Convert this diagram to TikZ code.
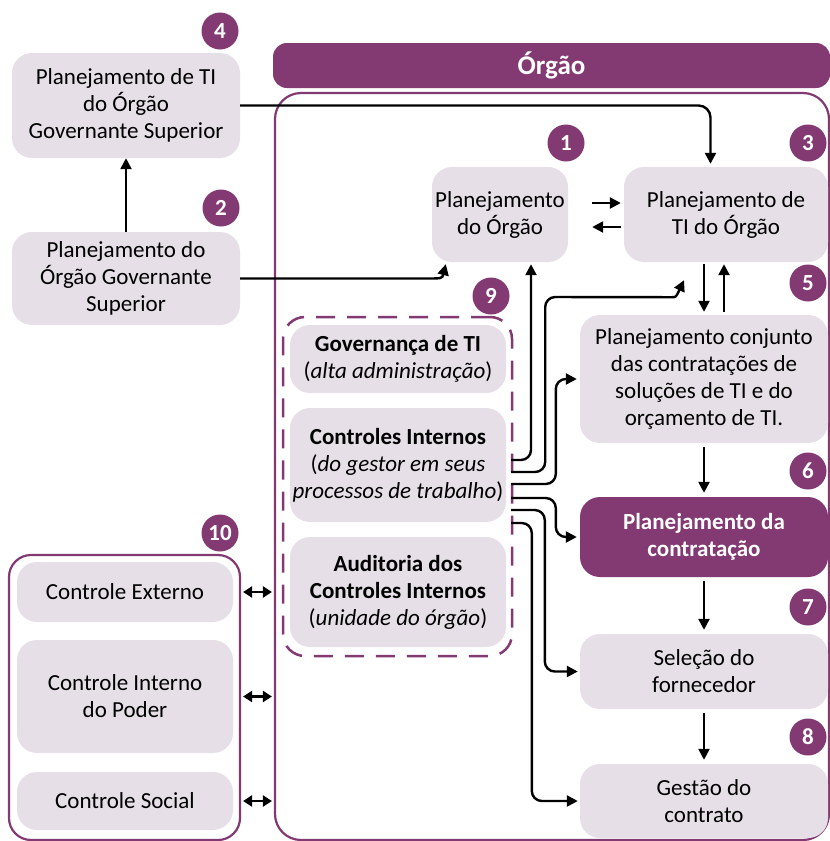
\documentclass[tikz,border=0pt]{standalone}
\usepackage{fontspec}
\setmainfont{Carlito}
\usetikzlibrary{arrows.meta,calc}
\definecolor{pur}{RGB}{131,57,114}
\definecolor{boxf}{RGB}{230,223,231}
\begin{document}
\begin{tikzpicture}[x=1pt,y=-1pt,
  box/.style={rectangle, rounded corners=20pt, fill=boxf, align=center, inner sep=0pt, font=\fontsize{23}{27}\selectfont},
  darkbox/.style={box, fill=pur, text=white, font=\fontsize{23}{27}\selectfont\bfseries},
  badge/.style={circle, fill=pur, text=white, minimum size=37pt, inner sep=0pt, font=\fontsize{23}{27}\selectfont\bfseries},
  frm/.style={draw=pur, line width=2.2pt, inner sep=0pt},
  arr/.style={line width=2.4pt, -{Triangle[length=11pt,width=11pt]}},
  dbl/.style={line width=2.4pt, {Triangle[length=9pt,width=11pt]}-{Triangle[length=9pt,width=11pt]}},
]
\useasboundingbox (0,0) rectangle (830,841);

% frames
\node[frm, rounded corners=26pt, minimum width=554pt, minimum height=747pt] (frame) at (552,466.5) {};
\node[fill=pur, rounded corners=14pt, minimum width=557pt, minimum height=45pt, inner sep=0pt, text=white, font=\fontsize{27}{30}\selectfont\bfseries] (hdr) at (551.5,65.5) {Órgão};
\node[frm, line width=2.5pt, dash pattern=on 19pt off 12pt, rounded corners=22pt, minimum width=229pt, minimum height=339pt] (g9) at (397.5,486.5) {};
\node[frm, rounded corners=22pt, minimum width=231pt, minimum height=285pt] (g10) at (124.5,697.5) {};

% left nodes
\node[box, minimum width=228pt, minimum height=105pt] (n4) at (126,105.5) {Planejamento de TI\\do Órgão\\Governante Superior};
\node[badge] (b4) at (220,31) {4};
\node[box, minimum width=228pt, minimum height=93pt] (n2) at (126,278.5) {Planejamento do\\Órgão Governante\\Superior};
\node[badge] (b2) at (221,208) {2};

% main nodes
\node[box, minimum width=136pt, minimum height=95pt] (n1) at (500,214.5) {Planejamento\\do Órgão};
\node[badge] (b1) at (566,143) {1};
\node[box, minimum width=204pt, minimum height=95pt] (n3) at (726,214.5) {Planejamento de\\TI do Órgão};
\node[badge] (b3) at (808,143) {3};
\node[box, minimum width=248pt, minimum height=128pt] (n5) at (704,379) {Planejamento conjunto\\das contratações de\\soluções de TI e do\\orçamento de TI.};
\node[badge] (b5) at (808,283) {5};
\node[darkbox, minimum width=248pt, minimum height=80pt] (n6) at (704,537) {Planejamento da\\contratação};
\node[badge] (b6) at (808,471) {6};
\node[box, minimum width=248pt, minimum height=75pt] (n7) at (704,671.5) {Seleção do\\fornecedor};
\node[badge] (b7) at (808,607) {7};
\node[box, minimum width=248pt, minimum height=74pt] (n8) at (704,801) {Gestão do\\contrato};
\node[badge] (b8) at (808,737) {8};

% group 9
\node[badge] (b9) at (491,296) {9};
\node[box, minimum width=216pt, minimum height=68pt] (gov) at (398,359) {\textbf{Governança de TI}\\(\textit{alta administração})};
\node[box, minimum width=216pt, minimum height=114pt] (ci) at (398,465) {\textbf{Controles Internos}\\(\textit{do gestor em seus}\\\textit{processos de trabalho})};
\node[box, minimum width=216pt, minimum height=110pt] (aud) at (398,592) {\textbf{Auditoria dos}\\\textbf{Controles Internos}\\(\textit{unidade do órgão})};

% group 10
\node[badge] (b10) at (220,533) {10};
\node[box, minimum width=216pt, minimum height=60pt] (ce) at (125,592) {Controle Externo};
\node[box, minimum width=216pt, minimum height=113pt] (cip) at (125,696.5) {Controle Interno\\do Poder};
\node[box, minimum width=216pt, minimum height=58pt] (cs) at (125,801) {Controle Social};

% connectors
\draw[arr] (n2) -- (n4);
\draw[arr, rounded corners=12pt] (n4.east) -| ($(n3.north)+(-15.5,-3)$);
\draw[arr] (n2.east) -- ($(n2.east)+(185,0)$) .. controls ($(n2.east)+(202,0)$) .. ($(n1.south west)+(14,2)$);
\draw[arr, shorten <=24pt, shorten >=3pt] ([yshift=11.5pt]n1.east) -- ([yshift=11.5pt]n3.west);
\draw[arr, shorten <=3pt, shorten >=24pt] ([yshift=-12.5pt]n3.west) -- ([yshift=-12.5pt]n1.east);
\draw[arr, shorten <=2pt, shorten >=3pt] (n5.north |- n3.south) -- (n5.north);
\draw[arr, shorten <=3pt, shorten >=2pt] ($(n5.north)+(20,0)$) -- ($(n5.north |- n3.south)+(20,0)$);
\draw[arr, shorten <=4pt, shorten >=4pt] (n5) -- (n6);
\draw[arr, shorten <=4pt, shorten >=4pt] (n6) -- (n7);
\draw[arr, shorten <=4pt, shorten >=4pt] (n7) -- (n8);

\draw[arr, rounded corners=10pt] ($(ci.east)+(5,-5)$) -| ($(n1.south)+(31,2)$);
\draw[arr, rounded corners=10pt] ($(ci.east)+(5,7)$) -| ($(ci.east)+(39,-168)$) -- ($(n3.south)+(-64,35)$) .. controls ($(n3.south)+(-50,35)$) .. ($(n3.south)+(-42,18)$);
\draw[arr, rounded corners=10pt] ($(ci.east)+(5,19)$) -| ($(n5.west)+(-24,0)$) -- ($(n5.west)+(-3,0)$);
\draw[arr, rounded corners=10pt] ($(ci.east)+(5,33)$) -| ($(n6.west)+(-24,0)$) -- ($(n6.west)+(-3,0)$);
\draw[arr, rounded corners=10pt] ($(ci.east)+(5,45)$) -| ($(n7.west)+(-35,0)$) -- ($(n7.west)+(-2,0)$);
\draw[arr, rounded corners=10pt] ($(ci.east)+(5,58)$) -| ($(n8.west)+(-48,0)$) -- ($(n8.west)+(-2,0)$);

\draw[dbl, shorten <=2pt, shorten >=2pt] (g10.east |- ce) -- (frame.west |- ce);
\draw[dbl, shorten <=2pt, shorten >=2pt] (g10.east |- cip) -- (frame.west |- cip);
\draw[dbl, shorten <=2pt, shorten >=2pt] (g10.east |- cs) -- (frame.west |- cs);
\end{tikzpicture}
\end{document}
